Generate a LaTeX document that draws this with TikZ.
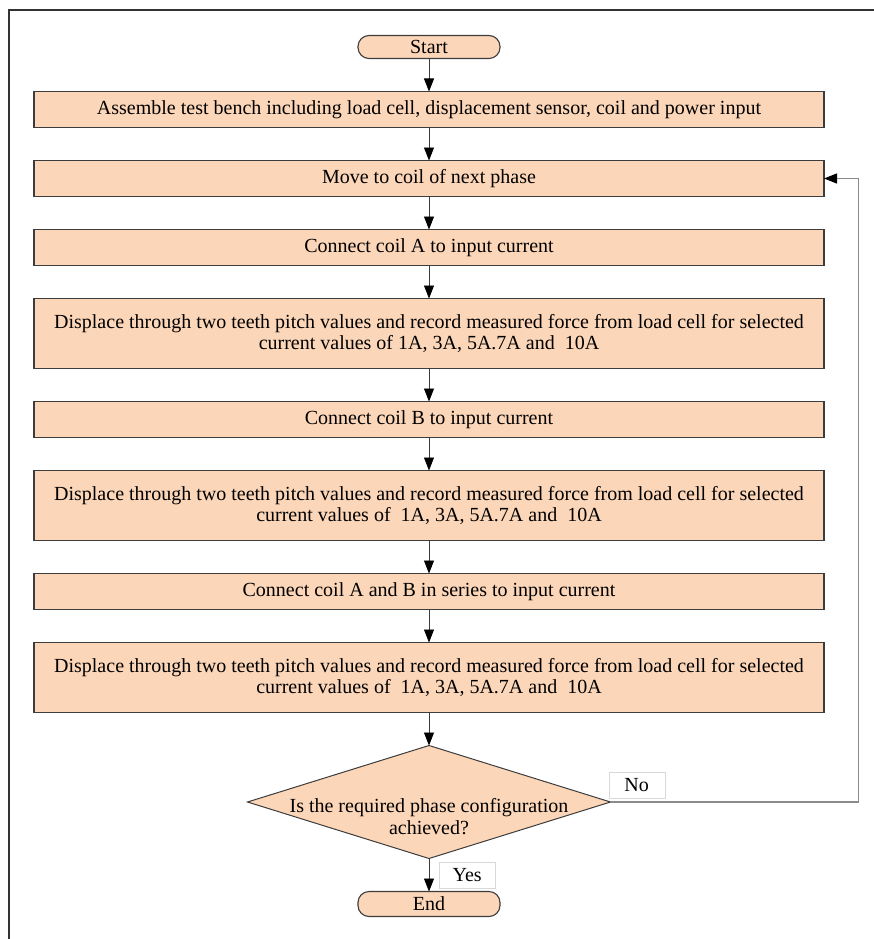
\documentclass[tikz,border=0pt]{standalone}
\usepackage{fontspec}
\setmainfont{Liberation Serif}
\usetikzlibrary{arrows.meta,positioning,shapes.geometric}
\definecolor{flowfill}{HTML}{FCD6B8}
\definecolor{flowline}{HTML}{3C3C3C}
\definecolor{loopline}{HTML}{8A8A8A}
\definecolor{tagline}{HTML}{D8D8D8}
\definecolor{framecol}{HTML}{333333}
\tikzset{
  terminal/.style={
    draw=flowline,
    line width=1.1pt,
    fill=flowfill,
    rounded corners=11pt,
    minimum width=142pt,
    minimum height=23pt,
    inner sep=0pt,
    outer sep=0pt,
    font=\fontsize{20}{22}\selectfont
  },
  stepbox/.style={
    draw=flowline,
    line width=1.1pt,
    fill=flowfill,
    minimum width=790pt,
    minimum height=#1,
    align=center,
    inner sep=2pt,
    outer sep=0pt,
    font=\fontsize{20}{21.5}\selectfont
  },
  stepbox/.default=36pt,
  decision/.style={
    diamond,
    draw=flowline,
    line width=1pt,
    fill=flowfill,
    minimum width=363pt,
    minimum height=113pt,
    inner sep=0pt,
    outer sep=0pt
  },
  tag/.style={
    draw=tagline,
    fill=white,
    minimum width=56pt,
    minimum height=26pt,
    inner sep=0pt,
    font=\fontsize{20}{22}\selectfont
  },
  arrow/.style={-{Triangle[length=13pt,width=10pt,color=black]},line width=0.8pt,draw=flowline},
  loop/.style={-{Triangle[length=13pt,width=10pt,color=black]},line width=1.2pt,draw=loopline}
}

\begin{document}
\begin{tikzpicture}[node distance=33pt]
  \useasboundingbox (0,0) rectangle (874pt,-939pt);
  \draw[framecol, line width=1.5pt] (874pt,-10pt) -| (9pt,-939pt);

  \node[terminal] (start) at (429pt,-47pt) {Start};
  \node[stepbox, below=of start] (assemble) {Assemble test bench including load cell, displacement sensor, coil and power input};
  \node[stepbox, below=of assemble] (move) {Move to coil of next phase};
  \node[stepbox, below=of move] (coila) {Connect coil A to input current};
  \node[stepbox=70pt, below=of coila] (testa) {Displace through two teeth pitch values and record measured force from load cell for selected\\current values of 1A, 3A, 5A.7A and \ 10A};
  \node[stepbox, below=of testa] (coilb) {Connect coil B to input current};
  \node[stepbox=70pt, below=of coilb] (testb) {Displace through two teeth pitch values and record measured force from load cell for selected\\current values of \ 1A, 3A, 5A.7A and \ 10A};
  \node[stepbox, below=of testb] (coilab) {Connect coil A and B in series to input current};
  \node[stepbox=70pt, below=of coilab] (testab) {Displace through two teeth pitch values and record measured force from load cell for selected\\current values of \ 1A, 3A, 5A.7A and \ 10A};
  \node[decision, below=of testab,
    label={[align=center,yshift=-15pt,font=\fontsize{20}{22}\selectfont]center:Is the required phase configuration\\achieved?}] (check) {};
  \node[terminal, minimum height=25pt, below=of check] (finish) {End};

  \node[tag, anchor=south west] (no) at ([xshift=-2pt,yshift=4pt]check.east) {No};
  \node[tag, anchor=north west] (yes) at ([xshift=10pt,yshift=-3pt]check.south) {Yes};

  \draw[arrow] (start) -- (assemble);
  \draw[arrow] (assemble) -- (move);
  \draw[arrow] (move) -- (coila);
  \draw[arrow] (coila) -- (testa);
  \draw[arrow] (testa) -- (coilb);
  \draw[arrow] (coilb) -- (testb);
  \draw[arrow] (testb) -- (coilab);
  \draw[arrow] (coilab) -- (testab);
  \draw[arrow] (testab) -- (check);
  \draw[arrow] (check) -- (finish);
  \draw[loop] (check.east) -- ++(248pt,0) |- (move.east);
\end{tikzpicture}
\end{document}
